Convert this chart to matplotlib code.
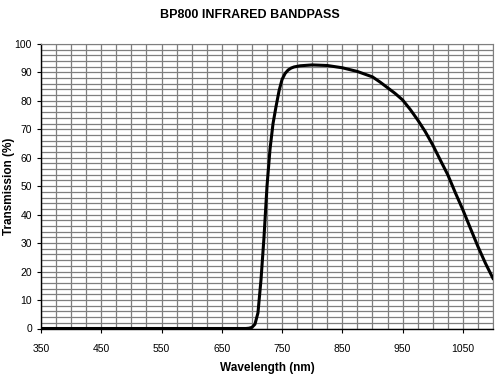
import matplotlib.pyplot as plt
import numpy as np

plt.rcParams['font.family'] = ['Liberation Sans', 'DejaVu Sans']

# transmission curve
wavelength = [350, 500, 650, 690, 695, 700, 705, 710, 715, 720, 725, 730, 735, 740,
              745, 750, 755, 760, 765, 770, 780, 800, 825, 850, 875, 900, 912.5,
              925, 937.5, 950, 962.5, 975, 987.5, 1000, 1012.5, 1025, 1037.5,
              1050, 1062.5, 1075, 1087.5, 1100]
transmission = [0, 0, 0, 0, 0.1, 0.4, 1.5, 5.5, 17, 32, 50, 63, 72, 78,
                83.5, 87.5, 89.6, 90.8, 91.5, 91.9, 92.3, 92.6, 92.4, 91.6, 90.3, 88.4, 86.6,
                84.6, 82.6, 80.3, 77, 73.3, 69.2, 64.5, 59.2, 54, 47.7,
                41.7, 35.2, 28.8, 22.9, 17.6]
xtick_vals = [350, 450, 550, 650, 750, 850, 950, 1050]

fig = plt.figure(figsize=(5, 3.75), dpi=100)
ax = fig.add_axes([0.082, 0.124, 0.904, 0.759])

ax.set_xlim(350, 1100)
ax.set_ylim(0, 100)

# fine grid
for gx in np.arange(350, 1101, 25):
    ax.axvline(gx, color='#7f7f7f', lw=0.9, zorder=1)
for gy in np.arange(0, 101, 2):
    ax.axhline(gy, color='#7f7f7f', lw=0.9, zorder=1)

ax.plot(wavelength, transmission, color='black', lw=2.2, zorder=3,
        solid_joinstyle='round')

ax.set_xticks(xtick_vals)
ax.set_yticks(np.arange(0, 101, 10))
ax.tick_params(axis='both', labelsize=7.5, length=3, width=0.8, color='black')
ax.tick_params(axis='x', pad=8)

for side in ['top', 'right']:
    ax.spines[side].set_color('#7f7f7f')
for side in ['left', 'bottom']:
    ax.spines[side].set_color('black')
    ax.spines[side].set_linewidth(1.0)

ax.set_xlabel('Wavelength (nm)', fontsize=8.5, fontweight='bold', labelpad=6)
ax.set_ylabel('Transmission (%)', fontsize=8.5, fontweight='bold')
ax.yaxis.set_label_coords(-0.058, 0.5)
fig.suptitle('BP800 INFRARED BANDPASS', fontsize=9, fontweight='bold', y=0.975)

fig.savefig('out.png', dpi=100)
